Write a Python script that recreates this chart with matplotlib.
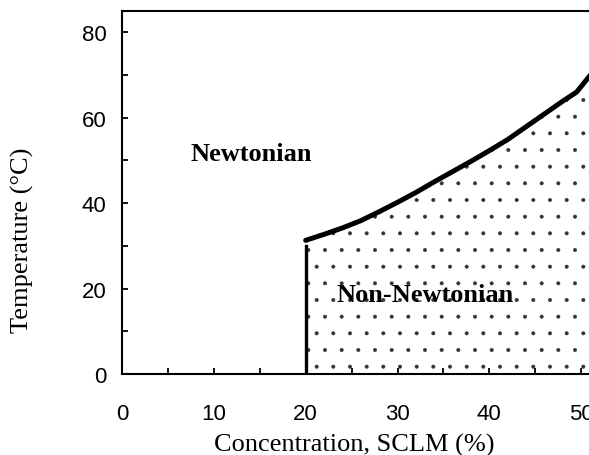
import matplotlib.pyplot as plt
from matplotlib.ticker import MultipleLocator

plt.rcParams['font.family'] = ['Liberation Sans', 'DejaVu Sans']
plt.rcParams['hatch.linewidth'] = 0.4

# transition boundary between Newtonian and non-Newtonian behaviour
conc = [20, 22, 24, 26, 28, 30, 32, 34, 36, 38, 40, 42, 44, 46, 48, 49.5, 51, 52]
temp = [31.3, 32.7, 34.2, 35.9, 38.0, 40.2, 42.5, 45.0, 47.4, 49.8, 52.3, 54.9, 57.9, 60.9, 63.9, 66.0, 70.0, 72.0]

# lower limit of the non-Newtonian region
conc_min = 20
temp_min = 30

fig = plt.figure(figsize=(5.89, 4.56), dpi=100)
ax = fig.add_axes([122 / 589, 81 / 456, 551 / 589, 363 / 456])

ax.fill_between(conc, 0, temp, facecolor='none', edgecolor='#333333',
                hatch='.', linewidth=0)
ax.plot(conc, temp, color='black', lw=3.6,
        solid_capstyle='round', solid_joinstyle='round')
ax.plot([conc_min, conc_min], [0, temp_min], color='black', lw=2.4)

ax.text(14.1, 50, 'Newtonian', family='Liberation Serif', fontweight='bold',
        fontsize=19, ha='center', va='baseline')
ax.text(33.0, 17.1, 'Non-Newtonian', family='Liberation Serif', fontweight='bold',
        fontsize=19, ha='center', va='baseline')

ax.set_xlim(0, 60)
ax.set_ylim(0, 85)
ax.xaxis.set_major_locator(MultipleLocator(10))
ax.xaxis.set_minor_locator(MultipleLocator(5))
ax.yaxis.set_major_locator(MultipleLocator(20))
ax.yaxis.set_minor_locator(MultipleLocator(10))
ax.tick_params(which='both', direction='in', length=4.5, width=1.3, labelsize=16)
ax.tick_params(axis='x', which='major', pad=21)
ax.tick_params(axis='y', which='major', pad=11)
for s in ax.spines.values():
    s.set_linewidth(1.5)

ax.set_xlabel('Concentration, SCLM (%)', family='Liberation Serif', fontsize=19)
ax.xaxis.set_label_coords((354 - 122) / 551, -(445 - 375) / 363)
ax.xaxis.label.set_va('center')
ax.set_ylabel('Temperature (°C)', family='Liberation Serif', fontsize=19)
ax.yaxis.set_label_coords(-(122 - 22) / 551, (375 - 240) / 363)
ax.yaxis.label.set_va('center')

fig.savefig('out.png', dpi=100)
